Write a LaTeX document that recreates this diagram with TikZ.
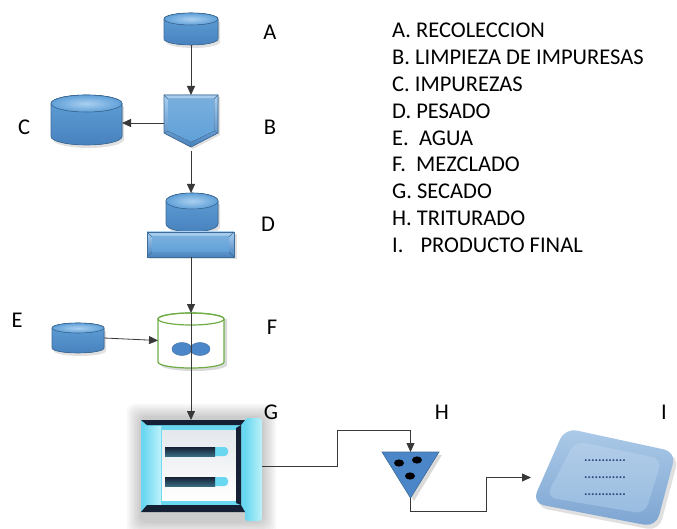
\documentclass[tikz,border=0pt]{standalone}
\usepackage{fontspec}
\setmainfont{Carlito}
\usetikzlibrary{arrows.meta,calc}

% palette
\definecolor{bA}{RGB}{96,160,216}
\definecolor{bL}{RGB}{170,208,240}
\definecolor{bD}{RGB}{72,130,190}
\definecolor{bO}{RGB}{62,108,152}
\definecolor{gF}{RGB}{112,173,71}
\definecolor{blade}{RGB}{74,134,200}
\definecolor{gC}{RGB}{105,215,240}
\definecolor{gCL}{RGB}{190,242,250}
\definecolor{gN}{RGB}{22,32,52}
\definecolor{gIn}{RGB}{228,232,236}
\definecolor{trayA}{RGB}{172,202,232}
\definecolor{trayB}{RGB}{125,165,210}
\definecolor{trayF}{RGB}{152,188,224}
\definecolor{dotc}{RGB}{40,70,120}

\tikzset{
  box/.style={rectangle, draw=none, inner sep=0pt, outer sep=0pt},
  link/.style={draw=black!78, line width=0.8pt},
  arr/.style={link, -{Triangle[length=9pt,width=8pt]}},
  lab/.style={font=\fontsize{22.5}{26}\selectfont, inner sep=0pt},
  leg/.style={font=\fontsize{22.5}{26}\selectfont, inner sep=0pt, anchor=west},
  dots/.style={font=\fontsize{13}{14}\selectfont\bfseries, text=dotc, inner sep=0pt},
  % blue storage drum: width, height, end-ellipse half height
  pics/drum/.style n args={3}{code={
    \fill[black, opacity=0.12]
      ({-#1/2+2},{-#2/2+#3+3}) -- ({-#1/2+2},{#2/2-#3+3})
      arc[start angle=180,end angle=360,x radius={#1*0.5pt},y radius={#3*1pt}]
      -- ({#1/2+2},{-#2/2+#3+3}) -- cycle;
    \filldraw[top color=bA, bottom color=bD, draw=bO, line width=0.6pt]
      ({-#1/2},{-#2/2+#3}) -- ({-#1/2},{#2/2-#3})
      arc[start angle=180,end angle=360,x radius={#1*0.5pt},y radius={#3*1pt}]
      -- ({#1/2},{-#2/2+#3})
      arc[start angle=0,end angle=180,x radius={#1*0.5pt},y radius={#3*1pt}] -- cycle;
    \filldraw[inner color=bL, outer color=bA, draw=bO, line width=0.6pt]
      (0,{-#2/2+#3}) ellipse[x radius={#1*0.5pt}, y radius={#3*1pt}];
  }},
}

\begin{document}
\begin{tikzpicture}[x=1pt,y=-1pt]
\useasboundingbox (0,0) rectangle (677,529);

% ---- anchor boxes of the process steps
\node[box, minimum width=54, minimum height=32] (A) at (191,29) {};
\node[box, minimum width=54, minimum height=56] (B) at (191,123) {};
\node[box, minimum width=71, minimum height=50] (C) at (86.5,120) {};
\node[box, minimum width=88, minimum height=64] (D) at (191,225) {};
\node[box, minimum width=52, minimum height=30] (E) at (78,338) {};
\node[box, minimum width=66, minimum height=55] (F) at (191,340.5) {};
\node[box, minimum width=121, minimum height=100] (G) at (201.5,470) {};
\node[box, minimum width=57, minimum height=46] (H) at (410.5,475) {};
\node[box, minimum width=146, minimum height=99] (I) at (604,477.5) {};

% ---- A, C, E: drums
\pic at (A) {drum={54}{32}{6}};
\pic at (C) {drum={71}{50}{8.5}};
\pic at (E) {drum={52}{30}{5}};

% ---- B: cleaning (off-page pentagon)
\begin{scope}[shift={(B)}]
  \fill[black, opacity=0.12] (-25,-26) -- (29,-26) -- (29,12) -- (2,26) -- (-25,12) -- cycle;
  \filldraw[top color=bL, bottom color=bD, draw=bO, line width=0.6pt]
    (-27,-28) -- (27,-28) -- (27,10) -- (0,24) -- (-27,10) -- cycle;
  \fill[top color=bA!85!white, bottom color=bA]
    (-23,-24) -- (23,-24) -- (23,8) -- (0,19) -- (-23,8) -- cycle;
  \draw[bO, line width=0.4pt] (-27,-28) -- (-23,-24) (27,-28) -- (23,-24)
    (27,10) -- (23,8) (-27,10) -- (-23,8) (0,24) -- (0,19);
\end{scope}

% ---- D: weighing (drum on a slab)
\begin{scope}[shift={(D)}]
  \pic at (1,-12.5) {drum={52}{39}{8}};
  \fill[black, opacity=0.12] (-42,9) rectangle (46,34);
  \filldraw[top color=bL, bottom color=bD, draw=bO, line width=0.6pt] (-44,7) rectangle (43,32);
  \fill[top color=bA!85!white, bottom color=bA] (-39,12) rectangle (38,27);
  \draw[bO, line width=0.4pt] (-44,7) -- (-39,12) (43,7) -- (38,12)
    (-44,32) -- (-39,27) (43,32) -- (38,27);
\end{scope}

% ---- F: mixer
\begin{scope}[shift={(F)}]
  \fill[black, opacity=0.15]
    (-30,-21.5) -- (-30,24.5) arc[start angle=180,end angle=360,x radius=33pt,y radius=6pt]
    -- (36,-21.5) -- cycle;
  \filldraw[fill=white, draw=gF, line width=1.2pt]
    (-33,-21.5) -- (-33,21.5) arc[start angle=180,end angle=360,x radius=33pt,y radius=6pt]
    -- (33,-21.5) arc[start angle=0,end angle=180,x radius=33pt,y radius=6pt] -- cycle;
  \draw[gF, line width=1.2pt] (0,-21.5) ellipse[x radius=33pt, y radius=6pt];
  \filldraw[fill=blade, draw=blade!80!black, line width=0.4pt] (-9,8.5) ellipse[x radius=10pt, y radius=6.5pt];
  \filldraw[fill=blade, draw=blade!80!black, line width=0.4pt] (9,8.5) ellipse[x radius=10pt, y radius=6.5pt];
\end{scope}

% ---- G: dryer
\foreach \k in {1,...,7}
  \fill[black, opacity=0.03, rounded corners=8pt] ({141-2*\k},{418-2*\k}) rectangle ({262+2*\k},{521+2*\k});
\fill[gC] (141,420) rectangle (245,512);
\shade[left color=gC, right color=gCL] (143,426) rectangle (161,505);
\shade[top color=gIn, bottom color=white] (162,430) rectangle (236,500);
\fill[gN] (141,420) -- (245,420) -- (241,425) -- (147,425) -- cycle;
\fill[gN] (147,505) -- (241,505) -- (245,512) -- (141,512) -- cycle;
\fill[gN] (236,428) -- (241,425) -- (241,505) -- (236,503) -- cycle;
\shade[left color=gC, right color=gCL, rounded corners=3pt] (245,418) rectangle (262,521);
\foreach \yy in {447,477}{
  \fill[gC, rounded corners=3.5pt] (208,\yy) rectangle (228,\yy+9);
  \shade[top color=gN, bottom color=gN!60!gC] (165,\yy) rectangle (215,\yy+9);
}

% ---- H: grinder
\fill[black, opacity=0.15] (385,455) -- (442,455) -- (414,501) -- cycle;
\filldraw[fill=blade, draw=bO, line width=0.6pt] (H.north west) -- (H.north east) -- (H.south) -- cycle;
\fill[black] (399,463) ellipse[x radius=5pt, y radius=3.6pt];
\fill[black] (417,460) ellipse[x radius=5pt, y radius=3.6pt];
\fill[black] (410,476) ellipse[x radius=5pt, y radius=3.6pt];

% ---- I: final product tray
\fill[black, opacity=0.12, rounded corners=12pt] (568,432) -- (679,456) -- (659,531) -- (535,507) -- cycle;
\shade[top color=trayA, bottom color=trayB, rounded corners=12pt] (565,428) -- (676,452) -- (656,527) -- (532,503) -- cycle;
\shade[top color=trayF!75!white, bottom color=trayF, rounded corners=10pt] (575,441) -- (662,459) -- (645,514) -- (546,497) -- cycle;
\node[dots] (i1) at (605,461) {............};
\node[dots] (i2) at (605,478) {............};
\node[dots] (i3) at (605,495) {............};

% ---- connectors
\draw[arr] (A.south) -- (B.north);
\draw[arr] (B.west) -- (B.west -| C.east);
\draw[arr] (B.south) -- (D.north);
\draw[arr] (D.south) -- (D.south |- F.north);
\draw[arr] (E.east) -- (F.west);
\draw[arr] (F.north) -- (F.north |- G.north);
\coordinate (gh) at (337,430);
\draw[arr] ([yshift=4pt]G.east) -| (gh) -| (H.north);
\coordinate (hi) at (486,511);
\draw[arr] (H.south) |- (hi) |- (I.west);

% ---- step letters
\node[lab] (la) at (270,32) {A};
\node[lab] (lb) at (270,127) {B};
\node[lab] (lc) at (24,127) {C};
\node[lab] (ld) at (268,224) {D};
\node[lab] (le) at (17,320) {E};
\node[lab] (lf) at (272,327) {F};
\node[lab] (lg) at (271,412) {G};
\node[lab] (lh) at (442,412) {H};
\node[lab] (li) at (664,412) {I};

% ---- legend
\node[leg] (k1) at (392,30) {A. RECOLECCION};
\node[leg] (k2) at (392,57) {B. LIMPIEZA DE IMPURESAS};
\node[leg] (k3) at (392,84) {C. IMPUREZAS};
\node[leg] (k4) at (392,111) {D. PESADO};
\node[leg] (k5) at (392,138) {E.\ \ AGUA};
\node[leg] (k6) at (392,164) {F.\ \ MEZCLADO};
\node[leg] (k7) at (392,191) {G. SECADO};
\node[leg] (k8) at (392,218) {H. TRITURADO};
\node[leg] (k9) at (392,245) {I.\hspace{17pt}PRODUCTO FINAL};
\end{tikzpicture}
\end{document}
